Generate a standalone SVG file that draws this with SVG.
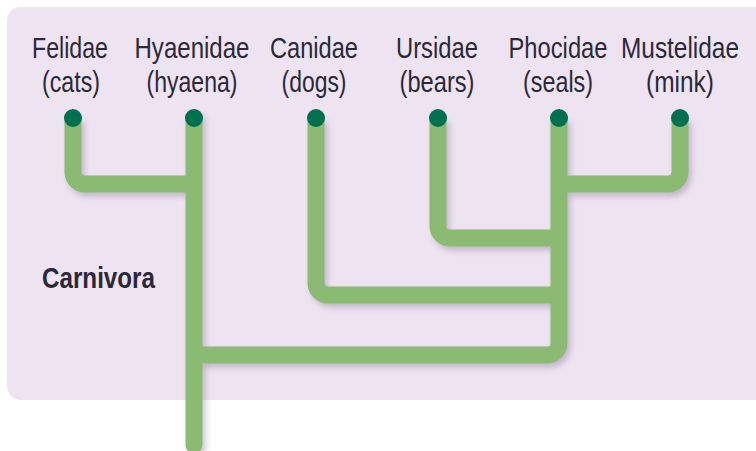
<svg xmlns="http://www.w3.org/2000/svg" width="756" height="451" viewBox="0 0 756 451">
  <defs>
    <filter id="soft" x="-10%" y="-10%" width="130%" height="130%">
      <feDropShadow dx="3" dy="4" stdDeviation="3" flood-color="#8e7a9c" flood-opacity="0.45"/>
    </filter>
  </defs>
  <style>
    .lbl { font-family: "Liberation Sans Narrow", "Liberation Sans", Arial, sans-serif; font-size: 29px; fill: #2b2838; text-anchor: middle; }
    .grp { font-weight: bold; text-anchor: start; }
    .branch { fill: none; stroke: #8bbb72; stroke-width: 17; stroke-linejoin: round; }
    .tip { fill: #00704f; }
  </style>

  <!-- panel -->
  <rect x="7" y="7" width="770" height="393" rx="14" fill="#eee4f1"/>

  <!-- branches of the tree -->
  <g id="connectors" filter="url(#soft)">
    <path class="branch" d="M194,118 V445" stroke-linecap="round"/>
    <path class="branch" d="M73,118 V172 A12,12 0 0 0 85,184 H194"/>
    <path class="branch" d="M316,118 V283 A12,12 0 0 0 328,295 H559"/>
    <path class="branch" d="M438,118 V226 A12,12 0 0 0 450,238 H559"/>
    <path class="branch" d="M680,118 V172 A12,12 0 0 1 668,184 H559"/>
    <path class="branch" d="M559,118 V343 A12,12 0 0 1 547,355 H194"/>
  </g>

  <g id="felidae">
    <text class="lbl" x="70" y="58" textLength="76" lengthAdjust="spacingAndGlyphs">Felidae</text>
    <text class="lbl" x="71" y="92" textLength="58" lengthAdjust="spacingAndGlyphs">(cats)</text>
    <circle class="tip" cx="73" cy="118" r="9"/>
  </g>
  <g id="hyaenidae">
    <text class="lbl" x="192" y="58" textLength="115" lengthAdjust="spacingAndGlyphs">Hyaenidae</text>
    <text class="lbl" x="192" y="92" textLength="91" lengthAdjust="spacingAndGlyphs">(hyaena)</text>
    <circle class="tip" cx="194" cy="118" r="9"/>
  </g>
  <g id="canidae">
    <text class="lbl" x="314" y="58" textLength="88" lengthAdjust="spacingAndGlyphs">Canidae</text>
    <text class="lbl" x="314" y="92" textLength="65" lengthAdjust="spacingAndGlyphs">(dogs)</text>
    <circle class="tip" cx="316" cy="118" r="9"/>
  </g>
  <g id="ursidae">
    <text class="lbl" x="437" y="58" textLength="82" lengthAdjust="spacingAndGlyphs">Ursidae</text>
    <text class="lbl" x="437" y="92" textLength="75" lengthAdjust="spacingAndGlyphs">(bears)</text>
    <circle class="tip" cx="438" cy="118" r="9"/>
  </g>
  <g id="phocidae">
    <text class="lbl" x="558" y="58" textLength="99" lengthAdjust="spacingAndGlyphs">Phocidae</text>
    <text class="lbl" x="558" y="92" textLength="70" lengthAdjust="spacingAndGlyphs">(seals)</text>
    <circle class="tip" cx="559" cy="118" r="9"/>
  </g>
  <g id="mustelidae">
    <text class="lbl" x="680" y="58" textLength="118" lengthAdjust="spacingAndGlyphs">Mustelidae</text>
    <text class="lbl" x="680" y="92" textLength="68" lengthAdjust="spacingAndGlyphs">(mink)</text>
    <circle class="tip" cx="680" cy="118" r="9"/>
  </g>

  <g id="carnivora">
    <text class="lbl grp" x="42" y="288" textLength="113" lengthAdjust="spacingAndGlyphs">Carnivora</text>
  </g>
</svg>
